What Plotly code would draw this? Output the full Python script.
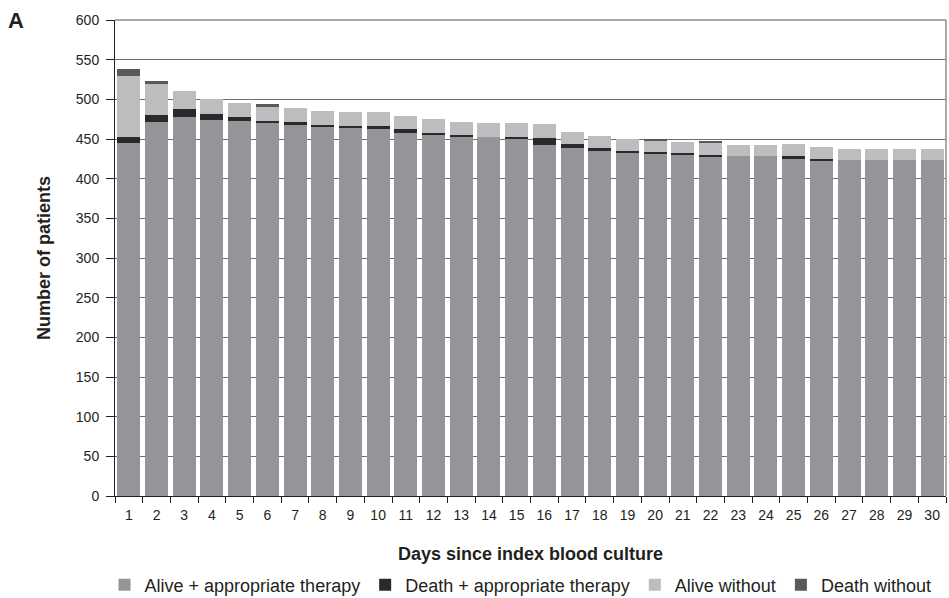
import plotly.graph_objects as go

# Days since index blood culture
days = [str(d) for d in range(1, 31)]

# Patient counts per day, stacked bottom to top
alive_appropriate = [445, 471, 478, 474, 473, 470, 468, 466, 464, 462,
                     458, 455, 453, 452, 451, 442, 439, 435, 432, 431,
                     430, 427, 428, 428, 425, 422, 423, 423, 423, 423]
death_appropriate = [7, 9, 10, 7, 5, 3, 3, 2, 3, 4,
                     4, 3, 2, 0, 1, 9, 5, 4, 3, 3,
                     2, 3, 0, 0, 4, 3, 0, 0, 0, 0]
alive_without = [78, 39, 22, 19, 18, 17, 18, 17, 17, 18,
                 17, 17, 17, 18, 18, 18, 15, 15, 15, 14,
                 14, 15, 15, 15, 15, 15, 15, 15, 15, 14]
death_without = [8, 4, 0, 0, 0, 4, 0, 0, 0, 0,
                 0, 0, 0, 0, 0, 0, 0, 0, 0, 2,
                 0, 2, 0, 0, 0, 0, 0, 0, 0, 0]

series = [
    ("Alive + appropriate therapy", alive_appropriate, "#939598"),
    ("Death + appropriate therapy", death_appropriate, "#2b2a2b"),
    ("Alive without", alive_without, "#bcbdbf"),
    ("Death without", death_without, "#58595b"),
]

FONT = "Liberation Sans, Arial, sans-serif"

fig = go.Figure()
for name, vals, color in series:
    fig.add_trace(go.Bar(
        x=days, y=vals, name=name,
        marker=dict(color=color, line=dict(width=0)),
    ))

fig.update_layout(
    barmode="stack",
    bargap=0.17,
    width=949, height=598,
    margin=dict(l=115, r=3, t=20, b=102, autoexpand=False),
    paper_bgcolor="white",
    plot_bgcolor="white",
    font=dict(family=FONT, size=14, color="#231f20"),
    showlegend=True,
    legend=dict(
        orientation="h",
        x=0.488, xanchor="center",
        y=-0.187, yanchor="middle",
        font=dict(size=18, color="#231f20"),
        itemwidth=30,
        traceorder="normal",
    ),
    xaxis=dict(
        type="category",
        tickson="boundaries",
        ticks="outside", ticklen=6, tickcolor="#231f20",
        showline=True, linecolor="#231f20", linewidth=1,
        showgrid=False,
        tickfont=dict(size=14),
        ticklabelstandoff=6,
        automargin=False,
        title=dict(text="<b>Days since index blood culture</b>",
                   font=dict(size=18), standoff=25),
    ),
    yaxis=dict(
        range=[0, 600], dtick=50,
        ticks="outside", ticklen=8, tickcolor="#231f20",
        showline=True, linecolor="#231f20", linewidth=1,
        showgrid=True, gridcolor="#6d6e71", gridwidth=1,
        tickfont=dict(size=14),
        ticklabelstandoff=4,
        automargin=False,
        title=dict(text="<b>Number of patients</b>",
                   font=dict(size=18), standoff=20),
    ),
    shapes=[
        dict(type="line", xref="paper", yref="paper", x0=0, x1=1, y0=1, y1=1,
             line=dict(color="#8a8b8e", width=1.5)),
        dict(type="line", xref="paper", yref="paper", x0=1, x1=1, y0=0, y1=1,
             line=dict(color="#8a8b8e", width=1.5)),
    ],
    annotations=[
        dict(text="<b>A</b>", xref="paper", yref="paper",
             x=-0.131, y=1.0, xanchor="left", yanchor="middle",
             showarrow=False, font=dict(size=22, color="#231f20")),
    ],
)

fig.write_html("out.html")
